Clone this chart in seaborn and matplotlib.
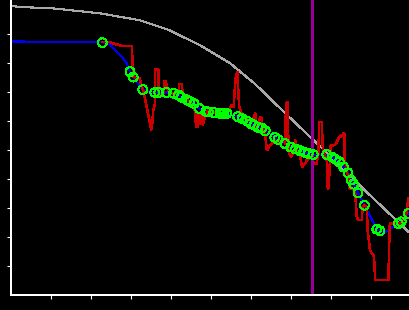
import matplotlib
matplotlib.use("Agg")
import matplotlib.pyplot as plt
import seaborn as sns
import pandas as pd

# ---- data ----
gray_x = [0.0, 0.36, 0.98, 1.48, 2.23, 3.23, 3.96, 4.73, 5.48, 6.11, 6.91, 7.91, 9.03, 9.98]
gray_y = [9.97, 9.93, 9.90, 9.83, 9.72, 9.48, 9.14, 8.62, 8.00, 7.28, 6.21, 4.90, 3.38, 2.14]

green_x = [2.29, 2.98, 3.06, 3.30, 3.60, 3.70, 3.89, 4.07, 4.19, 4.26, 4.40, 4.48, 4.58, 4.71,
           4.88, 4.94, 5.07, 5.23, 5.28, 5.33, 5.40, 5.67, 5.78, 5.90, 6.00, 6.08, 6.18, 6.27,
           6.36, 6.60, 6.68, 6.85, 7.00, 7.12, 7.23, 7.35, 7.44, 7.56, 7.90, 8.03, 8.11, 8.21,
           8.32, 8.43, 8.51, 8.57, 8.68, 8.84, 9.15, 9.23, 9.69, 9.76, 9.94]
green_y = [8.71, 7.71, 7.52, 7.09, 6.99, 6.99, 6.99, 6.96, 6.90, 6.83, 6.74, 6.68, 6.61, 6.44,
           6.34, 6.32, 6.30, 6.27, 6.27, 6.27, 6.27, 6.16, 6.09, 6.01, 5.92, 5.87, 5.79, 5.76,
           5.67, 5.44, 5.37, 5.23, 5.11, 5.04, 4.98, 4.92, 4.89, 4.85, 4.85, 4.77, 4.69, 4.60,
           4.42, 4.22, 3.97, 3.83, 3.53, 3.10, 2.28, 2.22, 2.47, 2.53, 2.82]

blue_x = [0.0, 2.29, 2.48, 2.61, 2.78, 2.90, 2.98, 3.06, 3.30, 3.60, 3.70, 3.89, 4.07, 4.19,
          4.26, 4.40, 4.48, 4.58, 4.71, 4.88, 4.94, 5.07, 5.23, 5.40, 5.67, 5.78, 5.90, 6.00,
          6.08, 6.18, 6.27, 6.36, 6.60, 6.68, 6.85, 7.00, 7.12, 7.23, 7.35, 7.44, 7.56, 7.90,
          8.03, 8.11, 8.21, 8.32, 8.43, 8.51, 8.57, 8.68, 8.84, 9.15, 9.23, 9.30, 9.69, 9.76,
          9.94, 9.98]
blue_y = [8.75, 8.73, 8.64, 8.45, 8.22, 7.99, 7.71, 7.52, 7.09, 6.99, 6.99, 6.99, 6.96, 6.90,
          6.83, 6.74, 6.68, 6.61, 6.44, 6.34, 6.32, 6.30, 6.27, 6.27, 6.16, 6.09, 6.01, 5.92,
          5.87, 5.79, 5.76, 5.67, 5.44, 5.37, 5.23, 5.11, 5.04, 4.98, 4.92, 4.89, 4.85, 4.85,
          4.77, 4.69, 4.60, 4.42, 4.22, 3.97, 3.83, 3.53, 3.10, 2.28, 2.22, 2.13, 2.47, 2.53,
          2.82, 2.90]

red_x = [2.28, 2.48, 2.56, 2.78, 3.03, 3.04, 3.07, 3.23, 3.25, 3.32, 3.51, 3.53, 3.56, 3.61,
         3.61, 3.69, 3.69, 3.73, 3.82, 3.83, 3.88, 3.90, 3.98, 4.08, 4.19, 4.21, 4.28, 4.29,
         4.36, 4.43, 4.57, 4.61, 4.63, 4.68, 4.69, 4.73, 4.76, 4.78, 4.80, 4.86, 4.93, 5.06,
         5.18, 5.28, 5.43, 5.51, 5.57, 5.61, 5.63, 5.67, 5.69, 5.71, 5.76, 5.83, 5.93, 6.03,
         6.11, 6.15, 6.18, 6.23, 6.26, 6.30, 6.36, 6.40, 6.44, 6.48, 6.53, 6.61, 6.73, 6.83,
         6.86, 6.88, 6.92, 6.94, 6.96, 7.01, 7.07, 7.11, 7.15, 7.21, 7.26, 7.28, 7.36, 7.40,
         7.48, 7.54, 7.57, 7.65, 7.67, 7.69, 7.71, 7.78, 7.79, 7.82, 7.86, 7.90, 7.92, 7.94,
         7.97, 7.98, 8.00, 8.07, 8.13, 8.19, 8.23, 8.28, 8.32, 8.34, 8.34, 8.38, 8.40, 8.44,
         8.47, 8.48, 8.57, 8.61, 8.65, 8.68, 8.78, 8.79, 8.84, 8.90, 8.92, 8.94, 8.98, 9.03,
         9.07, 9.09, 9.11, 9.44, 9.47, 9.48, 9.73, 9.82, 9.86, 9.90, 9.93, 9.94, 9.98]
red_y = [8.73, 8.73, 8.68, 8.60, 8.60, 8.04, 7.53, 7.47, 7.30, 7.01, 5.71, 5.80, 6.38, 6.62,
         7.78, 7.78, 7.01, 6.90, 6.96, 7.36, 7.39, 7.13, 7.00, 6.93, 6.96, 7.28, 7.28, 6.96,
         6.86, 6.72, 6.44, 6.38, 5.80, 5.80, 6.27, 5.92, 6.15, 6.38, 5.86, 6.21, 6.38, 6.28,
         6.31, 6.21, 6.31, 6.55, 6.49, 7.30, 7.59, 7.70, 6.96, 6.49, 6.31, 6.10, 6.03, 5.97,
         6.27, 5.69, 5.86, 6.14, 6.14, 5.79, 5.52, 5.00, 5.06, 5.17, 5.23, 5.34, 5.28, 5.31,
         5.23, 6.61, 6.67, 5.23, 4.89, 4.77, 4.94, 5.34, 4.89, 4.93, 4.60, 4.42, 4.54, 4.66,
         4.76, 4.77, 4.54, 4.54, 4.77, 4.89, 5.98, 5.98, 5.23, 4.89, 4.79, 4.66, 3.73, 3.68,
         4.31, 4.77, 5.17, 5.17, 5.23, 5.40, 5.46, 5.52, 5.58, 5.58, 4.55, 4.54, 4.20, 4.14,
         3.68, 3.73, 3.62, 3.51, 2.70, 2.59, 2.59, 3.04, 3.10, 3.04, 2.24, 2.01, 1.55, 1.44,
         1.38, 1.09, 0.52, 0.52, 2.36, 2.47, 2.47, 2.59, 2.59, 2.93, 3.28, 3.33, 3.38]

marker_x = 7.54
ticks = [1, 2, 3, 4, 5, 6, 7, 8, 9]

# ---- figure ----
sns.set_style("dark")
plt.rcParams["lines.antialiased"] = False
plt.rcParams["patch.antialiased"] = False

fig = plt.figure(figsize=(4.1, 3.1), dpi=100)
fig.patch.set_facecolor("black")
ax = fig.add_axes([10.8 / 410, 14.8 / 310, 400 / 410, 295.2 / 310])
ax.set_facecolor("black")

sns.lineplot(data=pd.DataFrame({"x": gray_x, "y": gray_y}), x="x", y="y", sort=False,
             estimator=None, color="#a8a8a8", linewidth=0.8, ax=ax, antialiased=False)
sns.lineplot(data=pd.DataFrame({"x": blue_x, "y": blue_y}), x="x", y="y", sort=False,
             estimator=None, color="#0000f0", linewidth=0.8, ax=ax, antialiased=False)
sns.lineplot(data=pd.DataFrame({"x": red_x, "y": red_y}), x="x", y="y", sort=False,
             estimator=None, color="#cc0000", linewidth=1.1, ax=ax, antialiased=False)
ax.axvline(marker_x, color="#990099", linewidth=0.9, antialiased=False)
sns.scatterplot(x=green_x, y=green_y, marker="o", s=40, facecolor="none",
                edgecolor="#00ff00", linewidth=0.7, ax=ax, zorder=5)

ax.set_xlim(0, 10)
ax.set_ylim(0, 10.18)
ax.set_xticks(ticks)
ax.set_yticks(ticks)
ax.set_xticklabels([])
ax.set_yticklabels([])
ax.set_xlabel("")
ax.set_ylabel("")
ax.grid(False)
for side in ["top", "right"]:
    ax.spines[side].set_visible(False)
for side in ["left", "bottom"]:
    ax.spines[side].set_visible(True)
    ax.spines[side].set_color("white")
    ax.spines[side].set_linewidth(1.3)
ax.tick_params(axis="both", which="both", direction="out", length=2.6, width=0.8,
               color="white", bottom=True, left=True)

fig.savefig("out.png", dpi=100, facecolor="black")
